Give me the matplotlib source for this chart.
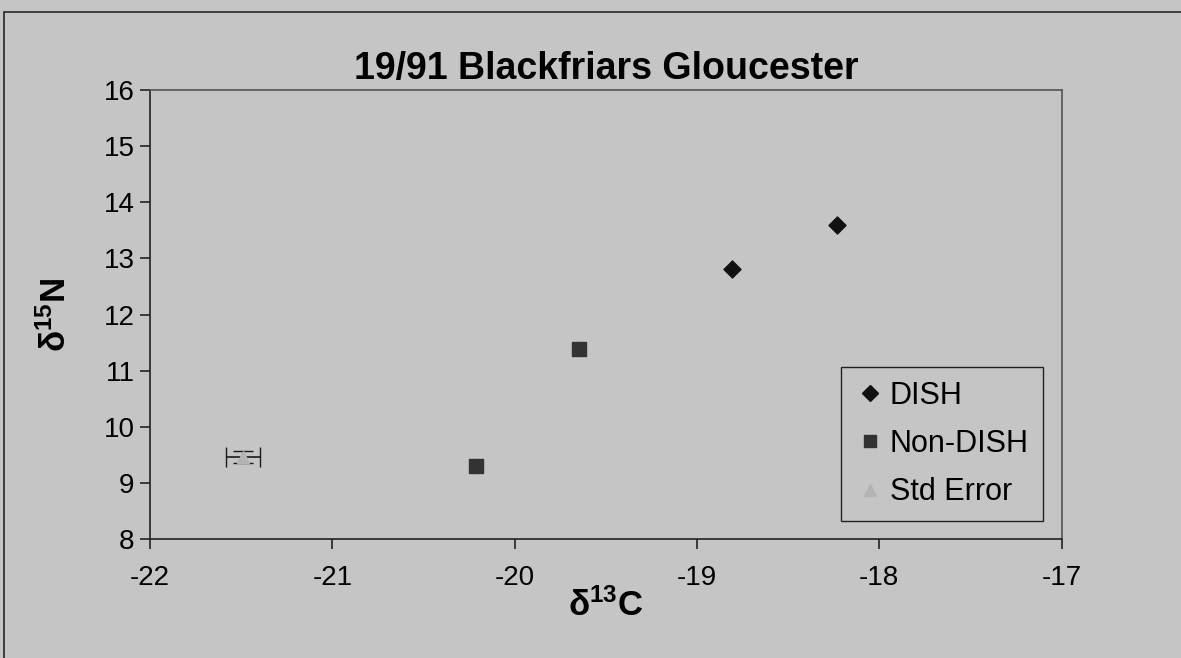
import numpy as np
import matplotlib.pyplot as plt
from matplotlib.patches import Rectangle
from matplotlib.lines import Line2D

# values
dish_x = [-18.81, -18.23]
dish_y = [12.81, 13.59]
nondish_x = [-19.65, -20.21]
nondish_y = [11.38, 9.30]
se_x = [-21.49]
se_y = [9.46]
se_xerr = [0.095]
se_yerr = [0.1]

bg = '#c5c5c5'
plt.rcParams['font.family'] = ['Liberation Sans', 'DejaVu Sans']
plt.rcParams['axes.unicode_minus'] = False
plt.rcParams['mathtext.fontset'] = 'custom'
plt.rcParams['mathtext.rm'] = 'Liberation Sans'
plt.rcParams['mathtext.it'] = 'Liberation Sans'
plt.rcParams['mathtext.bf'] = 'Liberation Sans:bold'

fig = plt.figure(figsize=(11.81, 6.58), dpi=100, facecolor=bg)
ax = fig.add_axes([0.127, 0.181, 0.772, 0.682], facecolor=bg)

# outer chart border (partly cut off in the scan)
fig.patches.append(Rectangle((4 / 1181, -0.1), 1.2, 1.1 - 12 / 658, transform=fig.transFigure,
                             fill=False, edgecolor='#333333', lw=1.3))

ax.scatter(dish_x, dish_y, marker='D', s=75, color='#111111', zorder=3)
ax.scatter(nondish_x, nondish_y, marker='s', s=95, color='#333333', zorder=3)
ax.errorbar(se_x, se_y, xerr=se_xerr, yerr=se_yerr, fmt='^', color='#b4b4b4', ms=9,
            ecolor='#1a1a1a', elinewidth=1.2, capsize=7, zorder=3)

ax.set_xlim(-22, -17)
ax.set_ylim(8, 16)
ax.set_xticks(np.arange(-22, -16, 1))
ax.set_yticks(np.arange(8, 17, 1))
ax.tick_params(labelsize=20, direction='out', length=7, width=1.2, color='#222222')
ax.tick_params(axis='x', pad=12)
ax.tick_params(axis='y', pad=4)
for s in ax.spines.values():
    s.set_color('#555555')
    s.set_linewidth(1.2)
ax.spines['bottom'].set_color('#222222')
ax.spines['left'].set_color('#222222')

ax.set_title('19/91 Blackfriars Gloucester', fontsize=27, fontweight='bold', pad=8)
ax.set_xlabel(r'$\mathbf{\delta^{13}C}$', fontsize=25, labelpad=-2)
ax.set_ylabel(r'$\mathbf{\delta^{15}N}$', fontsize=25, labelpad=22)

handles = [
    Line2D([], [], ls='', marker='D', ms=8, color='#111111'),
    Line2D([], [], ls='', marker='s', ms=8, color='#333333'),
    Line2D([], [], ls='', marker='^', ms=9, color='#b4b4b4'),
]
leg = ax.legend(handles, ['DISH', 'Non-DISH', 'Std Error'], loc='lower right', fontsize=22,
                frameon=True, fancybox=False, edgecolor='#222222', facecolor=bg, framealpha=1,
                handletextpad=0.15, borderpad=0.45, labelspacing=0.6, handlelength=1.0,
                borderaxespad=0, bbox_to_anchor=(0.979, 0.04))
leg.get_frame().set_linewidth(1.0)

fig.savefig('out.png', dpi=100, facecolor=bg)
